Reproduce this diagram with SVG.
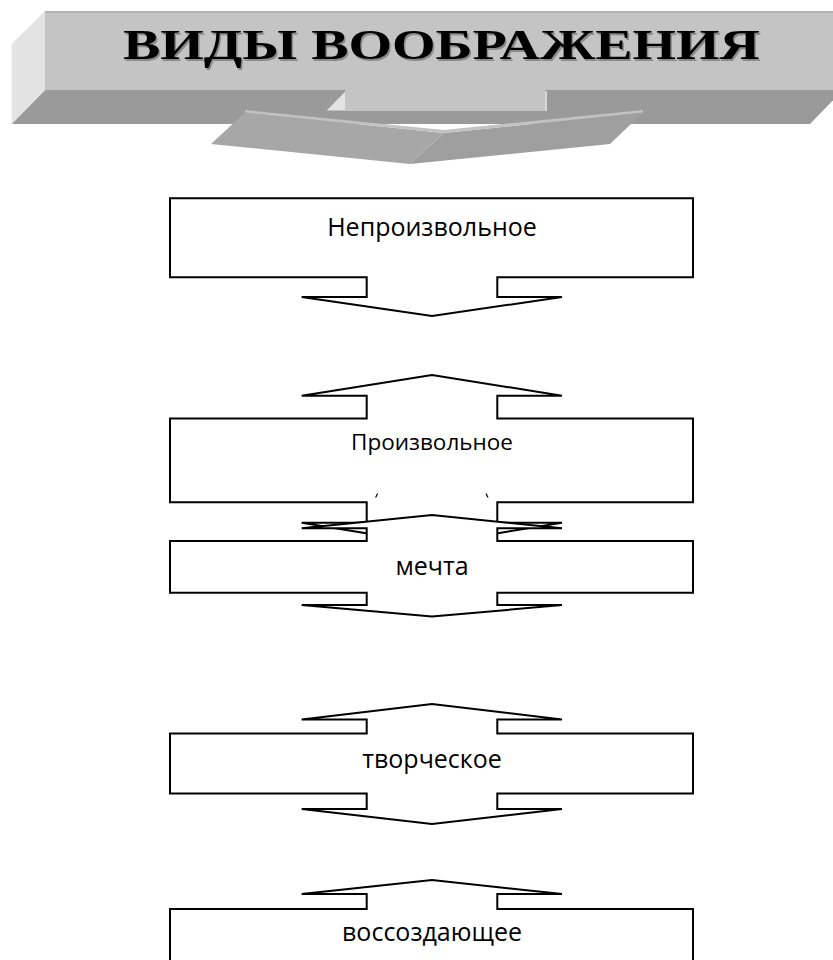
<svg xmlns="http://www.w3.org/2000/svg" width="833" height="960" viewBox="0 0 833 960">
<style>
.box{fill:#fff;stroke:#000;stroke-width:2;stroke-linejoin:miter}
.lbl{font-family:"Open Sans","Noto Sans",sans-serif;fill:#000;text-anchor:middle;font-size:25px}
.tick{stroke:#000;stroke-width:1.2;fill:none}
.title{font-family:"Liberation Serif","Times New Roman",serif;font-weight:bold;font-size:42px}
</style>
<rect width="833" height="960" fill="#fff"/>
<g id="header">
  <polygon points="45,90 843,90 810,124 11.7,124" fill="#9a9a9a"/>
  <polygon points="45,11 11.7,44 11.7,124 45,90" fill="#e3e3e3"/>
  <rect x="45" y="11" width="800" height="79" fill="#c4c4c4"/>
  <rect x="45" y="11" width="800" height="2" fill="#b2b2b2"/>
  <rect x="345" y="89" width="200" height="22" fill="#c4c4c4"/>
  <polygon points="345,91.7 345,110.5 326.7,110.5" fill="#e3e3e3"/>
  <rect x="545" y="91" width="2" height="20" fill="#d6d6d6"/>
  <polygon points="245,112.5 444,133 410,164 211,144" fill="#a7a7a7"/>
  <polygon points="444,133 643,112.5 610,144 410,164" fill="#9f9f9f"/>
  <polygon points="245,110 444,130 643,110 643,112.5 444,133 245,112.5" fill="#c2c2c2"/>
  <text class="title" x="124.5" y="60.8" fill="#8a8a8a" textLength="637" lengthAdjust="spacingAndGlyphs">ВИДЫ ВООБРАЖЕНИЯ</text>
  <text class="title" x="123" y="59.3" fill="#000" textLength="637" lengthAdjust="spacingAndGlyphs">ВИДЫ ВООБРАЖЕНИЯ</text>
</g>
<g id="connectors"></g>
<g id="node-neproizvolnoe">
  <path class="box" d="M170,198.3 H693 V277.3 H497.3 V297 H562 L432,316 L301.7,297 H366.7 V277.3 H170 Z"/>
  <text class="lbl" x="432" y="235.7">Непроизвольное</text>
</g>
<g id="node-proizvolnoe">
  <path class="box" d="M170,418.5 H366.7 V395.7 H301.7 L432,375 L562,395.7 H497.3 V418.5 H693 V502.3 H497.3 V522.7 H562 L432,544 L301.7,522.7 H366.7 V502.3 H170 Z"/>
  <text class="lbl" x="432" y="450" style="font-size:22.5px">Произвольное</text>
  <path class="tick" d="M375.6,497.6 L377.6,493.6 M486,493.6 L488,497.6"/>
</g>
<g id="node-mechta">
  <path class="box" d="M170,541 H366.7 V528.3 H301.7 L432,515 L562,528.3 H497.3 V541 H693 V592.7 H497.3 V605 H562 L432,616.6 L301.7,605 H366.7 V592.7 H170 Z"/>
  <text class="lbl" x="432" y="575">мечта</text>
</g>
<g id="node-tvorcheskoe">
  <path class="box" d="M170,733.5 H366.7 V719.5 H301.7 L432,704 L562,719.5 H497.3 V733.5 H693 V793.5 H497.3 V809 H562 L432,824 L301.7,809 H366.7 V793.5 H170 Z"/>
  <text class="lbl" x="432" y="768">творческое</text>
</g>
<g id="node-vossozdayuschee">
  <path class="box" d="M170,1000 V909 H366.7 V894 H301.7 L432,880 L562,894 H497.3 V909 H693 V1000 Z"/>
  <text class="lbl" x="432" y="941">воссоздающее</text>
</g>
</svg>
